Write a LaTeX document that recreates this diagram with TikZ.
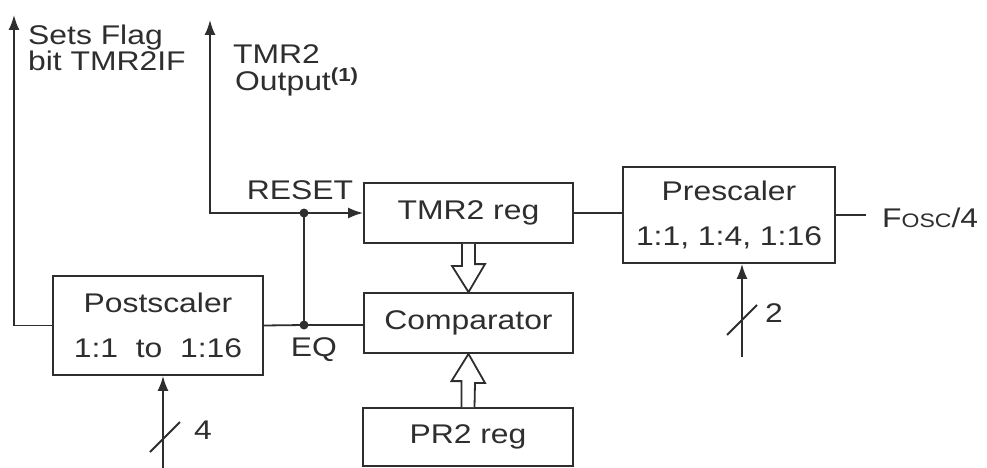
\documentclass[tikz,border=0pt]{standalone}
\usepackage{fontspec}
\setmainfont{Liberation Sans}[FakeStretch=1.18]
\usetikzlibrary{arrows.meta}
\definecolor{ink}{HTML}{2E2E2E}
\begin{document}
\begin{tikzpicture}[x=1pt,y=-1pt,
  box/.style={draw=ink, line width=1.8pt, fill=white, inner sep=0pt, align=center,
              text=ink, font=\fontsize{27}{45}\selectfont},
  lbl/.style={inner sep=0pt, text=ink, align=left, font=\fontsize{27}{24}\selectfont},
  wire/.style={draw=ink, line width=1.8pt},
  arr/.style={wire, -{Latex[length=15pt,width=11pt]}},
  hollow/.style={draw=ink, line width=1.8pt, fill=white, line join=miter},
  jdot/.style={circle, fill=ink, inner sep=0pt, minimum size=9pt}]
\fill[white] (0,0) rectangle (987,468);
\useasboundingbox (0,0) rectangle (987,468);

% boxes
\node[box, minimum width=210pt, minimum height=99pt] (post) at (158,325.5) {Postscaler\\1:1\ \ to\ \ 1:16};
\node[box, minimum width=209pt, minimum height=60pt] (tmr) at (468.5,213) {TMR2 reg};
\node[box, minimum width=209pt, minimum height=60pt] (comp) at (468.5,323) {Comparator};
\node[box, minimum width=210pt, minimum height=58pt] (pr2) at (468,437) {PR2 reg};
\node[box, minimum width=212pt, minimum height=96pt] (pre) at (729,215) {Prescaler\\1:1, 1:4, 1:16};

% labels
\node[lbl, anchor=north west] (flaglbl) at (28,25) {Sets Flag\\bit TMR2IF};
\node[lbl, anchor=north west] (tmrlbl) at (233,44) {TMR2};
\node[lbl, anchor=north west] (outlbl) at (235,68) {Output\textsuperscript{\bfseries(1)}};
\node[lbl] (rstlbl) at (300,190) {RESET};
\node[lbl] (eqlbl) at (314,350) {EQ};
\node[lbl, anchor=west] (fosc) at (882,218) {F{\fontsize{19.5}{20}\selectfont OSC}/4};
\node[lbl] (two) at (774,313) {2};
\node[lbl] (four) at (203,430) {4};

% coordinates
\coordinate (flag) at (14,15);
\coordinate (outtop) at (210,20);
\node[jdot] (rst) at (304,213) {};
\node[jdot] (eq) at (304,325) {};
\coordinate (pin) at (742,357);
\coordinate (postin) at (163,468);
\coordinate (foscend) at (866,215);

% connectors
\draw[arr] (post.west) -| (flag);
\draw[arr] (rst.center) -| (outtop);
\draw[arr] (rst.center) -- (tmr.west);
\draw[wire] (rst.center) -- (eq.center);
\draw[wire] (post.east) -- (eq.center) -- (eq.center -| comp.west);
\draw[wire] (tmr.east) -- (tmr.east -| pre.west);
\draw[wire] (pre.east) -- (foscend);
\draw[arr] (pin) -- (pin |- pre.south);
\draw[arr] (postin) -- (postin |- post.south);

% bus slashes
\draw[wire] (727,335) -- (757,305);
\draw[wire] (150,452) -- (180,422);

% hollow arrows
\draw[hollow] ([xshift=-6.5pt]tmr.south) -- ++(0,22) -- ++(-10,0) -- (comp.north) -- ++(16.5,-28) -- ++(-10,0) -- ([xshift=6.5pt]tmr.south);
\draw[hollow] ([xshift=-6.5pt]pr2.north) -- ++(0,-26) -- ++(-10,0) -- (comp.south) -- ++(16.5,29) -- ++(-10,0) -- ([xshift=6.5pt]pr2.north);
\end{tikzpicture}
\end{document}
